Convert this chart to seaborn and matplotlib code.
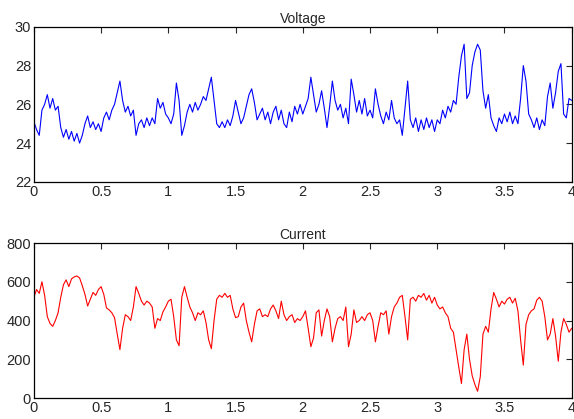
import numpy as np
import pandas as pd
import matplotlib
matplotlib.use('Agg')
import matplotlib.pyplot as plt
import seaborn as sns

voltage = [
    25.1, 24.7, 24.4, 25.7, 26.0, 26.5, 25.8, 26.3, 25.7, 25.9,
    24.8, 24.3, 24.7, 24.2, 24.6, 24.1, 24.5, 24.0, 24.4, 25.0,
    25.4, 24.8, 25.1, 24.7, 25.0, 24.6, 25.3, 25.6, 25.2, 25.7,
    26.0, 26.6, 27.2, 26.2, 25.6, 25.9, 25.4, 25.7, 24.4, 25.0,
    25.2, 24.8, 25.3, 24.9, 25.3, 25.0, 26.3, 25.8, 26.1, 25.5,
    25.3, 25.0, 25.5, 27.1, 26.2, 24.4, 24.9, 25.6, 26.0, 25.6,
    26.1, 25.7, 26.0, 26.4, 26.2, 26.8, 27.4, 26.2, 25.0, 24.8,
    25.1, 24.8, 25.2, 24.9, 25.4, 26.2, 25.6, 25.0, 25.3, 25.9,
    26.5, 26.8, 26.1, 25.2, 25.5, 25.8, 25.2, 25.6, 25.0, 25.6,
    25.9, 25.2, 25.7, 25.0, 24.8, 25.6, 25.1, 25.9, 25.5, 26.0,
    25.5, 25.9, 26.3, 27.4, 26.5, 25.6, 26.0, 26.7, 25.8, 24.8,
    25.9, 27.2, 26.2, 25.7, 26.0, 25.3, 25.8, 25.0, 27.3, 26.5,
    25.6, 26.2, 25.5, 26.3, 25.4, 25.7, 25.3, 26.8, 26.0, 25.4,
    25.0, 25.6, 25.2, 26.2, 25.3, 25.0, 25.2, 24.4, 25.8, 27.2,
    25.2, 24.8, 25.3, 24.6, 25.2, 24.7, 25.3, 24.8, 25.2, 24.6,
    25.2, 25.0, 25.7, 25.3, 25.9, 25.6, 26.2, 26.0, 27.4, 28.5,
    29.1, 26.3, 26.6, 28.0, 28.7, 29.1, 28.8, 26.7, 25.8, 26.5,
    25.3, 24.9, 24.6, 25.3, 25.0, 25.5, 25.1, 25.6, 25.0, 25.4,
    25.0, 26.3, 28.0, 27.2, 25.5, 25.2, 24.8, 25.3, 24.7, 25.2,
    24.9, 26.4, 27.1, 25.8, 26.6, 27.7, 28.1, 25.5, 25.3, 26.3,
    26.2,
]

current = [
    520, 560, 540, 600, 530, 420, 385, 370, 400, 440,
    520, 585, 610, 575, 615, 625, 630, 620, 580, 535,
    475, 510, 545, 530, 560, 575, 535, 465, 455, 440,
    415, 330, 250, 360, 430, 420, 400, 470, 575, 540,
    500, 480, 500, 490, 470, 360, 410, 400, 445, 470,
    500, 510, 420, 300, 270, 520, 575, 520, 470, 440,
    400, 440, 430, 450, 390, 300, 255, 400, 510, 530,
    520, 540, 520, 530, 460, 415, 420, 470, 490, 400,
    340, 290, 380, 450, 460, 420, 430, 420, 460, 480,
    450, 410, 500, 430, 400, 420, 430, 390, 410, 400,
    420, 450, 360, 265, 310, 440, 455, 320, 400, 460,
    420, 290, 360, 410, 420, 400, 470, 265, 330, 455,
    390, 400, 420, 400, 430, 440, 400, 290, 370, 440,
    430, 450, 330, 420, 470, 490, 520, 530, 420, 300,
    510, 520, 500, 530, 520, 540, 505, 530, 490, 520,
    480, 460, 470, 440, 420, 360, 340, 250, 160, 75,
    250, 330, 200, 115, 70, 35, 110, 330, 370, 340,
    460, 545, 510, 470, 500, 485, 510, 520, 490, 515,
    450, 300, 170, 380, 430, 450, 460, 505, 520, 500,
    420, 300, 330, 410, 320, 190, 340, 410, 380, 340,
    360,
]

t = np.round(np.arange(len(voltage)) * 0.02, 2)
df = pd.DataFrame({'t': t, 'voltage': voltage, 'current': current})

sns.set_style('white')
plt.rcParams['font.family'] = ['Liberation Sans', 'DejaVu Sans']

fig = plt.figure(figsize=(5.74, 4.19), dpi=100)
ax1 = fig.add_axes([0.059, 0.566, 0.937, 0.37])
ax2 = fig.add_axes([0.059, 0.05, 0.937, 0.37])

sns.lineplot(data=df, x='t', y='voltage', color='blue', lw=0.8, ax=ax1)
sns.lineplot(data=df, x='t', y='current', color='red', lw=0.8, ax=ax2)

ax1.set_ylim(22, 30)
ax1.set_yticks([22, 24, 26, 28, 30])
ax2.set_ylim(0, 800)
ax2.set_yticks([0, 200, 400, 600, 800])

for ax, title in [(ax1, 'Voltage'), (ax2, 'Current')]:
    ax.set_xlim(0, 4)
    ax.set_xticks([0, 0.5, 1, 1.5, 2, 2.5, 3, 3.5, 4])
    ax.set_xticklabels(['0', '0.5', '1', '1.5', '2', '2.5', '3', '3.5', '4'])
    ax.set_title(title, fontsize=10, pad=3)
    ax.set_xlabel('')
    ax.set_ylabel('')
    ax.tick_params(direction='in', length=4, width=0.8, labelsize=10.5,
                   top=True, right=True, pad=2)
    for s in ax.spines.values():
        s.set_visible(True)
        s.set_color('black')
        s.set_linewidth(0.9)

fig.savefig('out.png', dpi=100)
